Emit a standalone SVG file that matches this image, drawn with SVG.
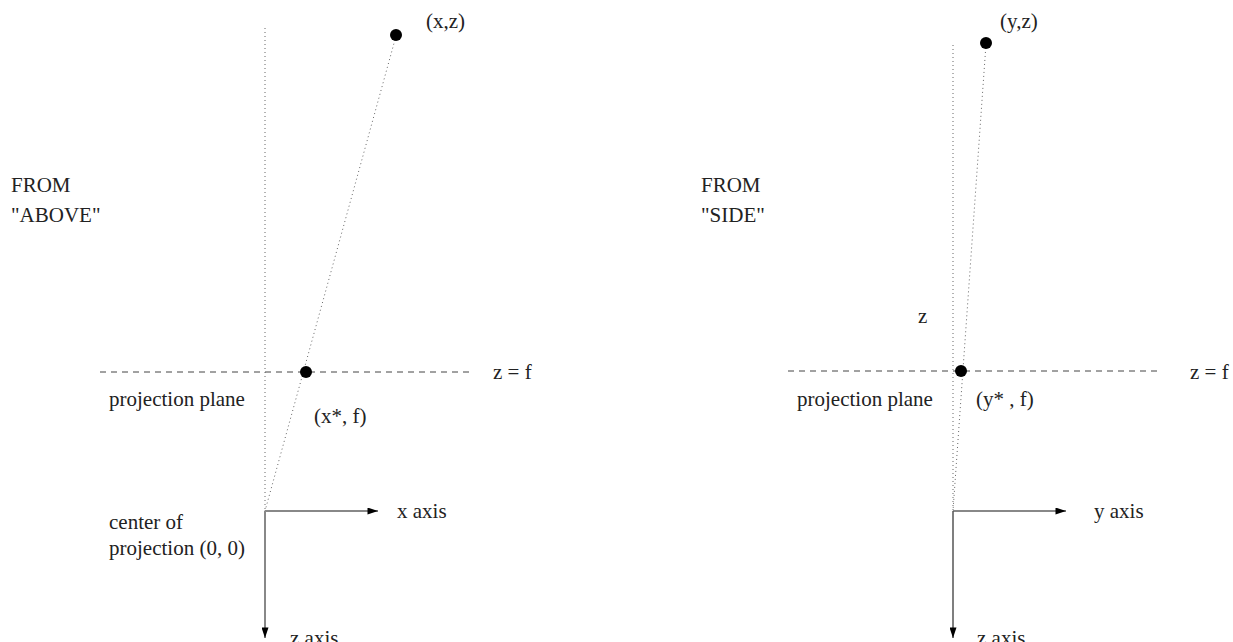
<svg xmlns="http://www.w3.org/2000/svg" width="1233" height="642" viewBox="0 0 1233 642">
<defs>
<style>
text{font-family:"Liberation Serif","Times New Roman",serif;font-size:21px;fill:#222}
.dot{stroke:#666;stroke-width:1;stroke-dasharray:1 3;fill:none}
.dash{stroke:#444;stroke-width:1;stroke-dasharray:6 5;fill:none}
.axis{stroke:#888;stroke-width:2;fill:none}
.axis2{stroke:#555;stroke-width:1.5;fill:none}
.pt{fill:#000}
</style>
<marker id="ah" viewBox="0 0 12 8" refX="12" refY="4" markerWidth="12" markerHeight="7" markerUnits="userSpaceOnUse" orient="auto">
<path d="M0,0 L12,4 L0,8 z" fill="#000"/>
</marker>
</defs>
<rect width="1233" height="642" fill="#fff"/>
<g id="connectors">
<line class="dot" x1="265" y1="28" x2="265" y2="511"/>
<line class="dot" x1="396" y1="36" x2="265" y2="511"/>
<line class="dash" x1="100" y1="372" x2="470" y2="372"/>
<line class="axis" x1="265" y1="511" x2="378" y2="511" marker-end="url(#ah)"/>
<line class="axis" x1="265" y1="511" x2="265" y2="638" marker-end="url(#ah)"/>
<line class="dot" x1="953" y1="45" x2="953" y2="511"/>
<line class="dot" x1="986" y1="44" x2="953" y2="511"/>
<line class="dash" x1="788" y1="371" x2="1160" y2="371"/>
<line class="axis" x1="953" y1="511" x2="1066" y2="511" marker-end="url(#ah)"/>
<line class="axis2" x1="953" y1="511" x2="953" y2="638" marker-end="url(#ah)"/>
</g>
<g id="left-panel">
<text x="11" y="192">FROM</text>
<text x="11" y="222">"ABOVE"</text>
<text x="109" y="406">projection plane</text>
<text x="109" y="529">center of</text>
<text x="109" y="555">projection (0, 0)</text>
</g>
<g id="point-xz"><circle class="pt" cx="396" cy="35" r="6"/><text x="426" y="28">(x,z)</text></g>
<g id="point-xf"><circle class="pt" cx="306" cy="372" r="6"/><text x="314" y="423">(x*, f)</text></g>
<g id="label-zf-left"><text x="493" y="379">z = f</text></g>
<g id="label-xaxis"><text x="397" y="518">x axis</text></g>
<g id="label-zaxis-left"><text x="290" y="645">z axis</text></g>
<g id="right-panel">
<text x="701" y="192">FROM</text>
<text x="701" y="222">"SIDE"</text>
<text x="797" y="406">projection plane</text>
<text x="918" y="323">z</text>
</g>
<g id="point-yz"><circle class="pt" cx="986" cy="43" r="6"/><text x="1000" y="28">(y,z)</text></g>
<g id="point-yf"><circle class="pt" cx="961" cy="371" r="6"/><text x="976" y="406">(y* , f)</text></g>
<g id="label-zf-right"><text x="1190" y="379">z = f</text></g>
<g id="label-yaxis"><text x="1094" y="518">y axis</text></g>
<g id="label-zaxis-right"><text x="977" y="645">z axis</text></g>
</svg>
